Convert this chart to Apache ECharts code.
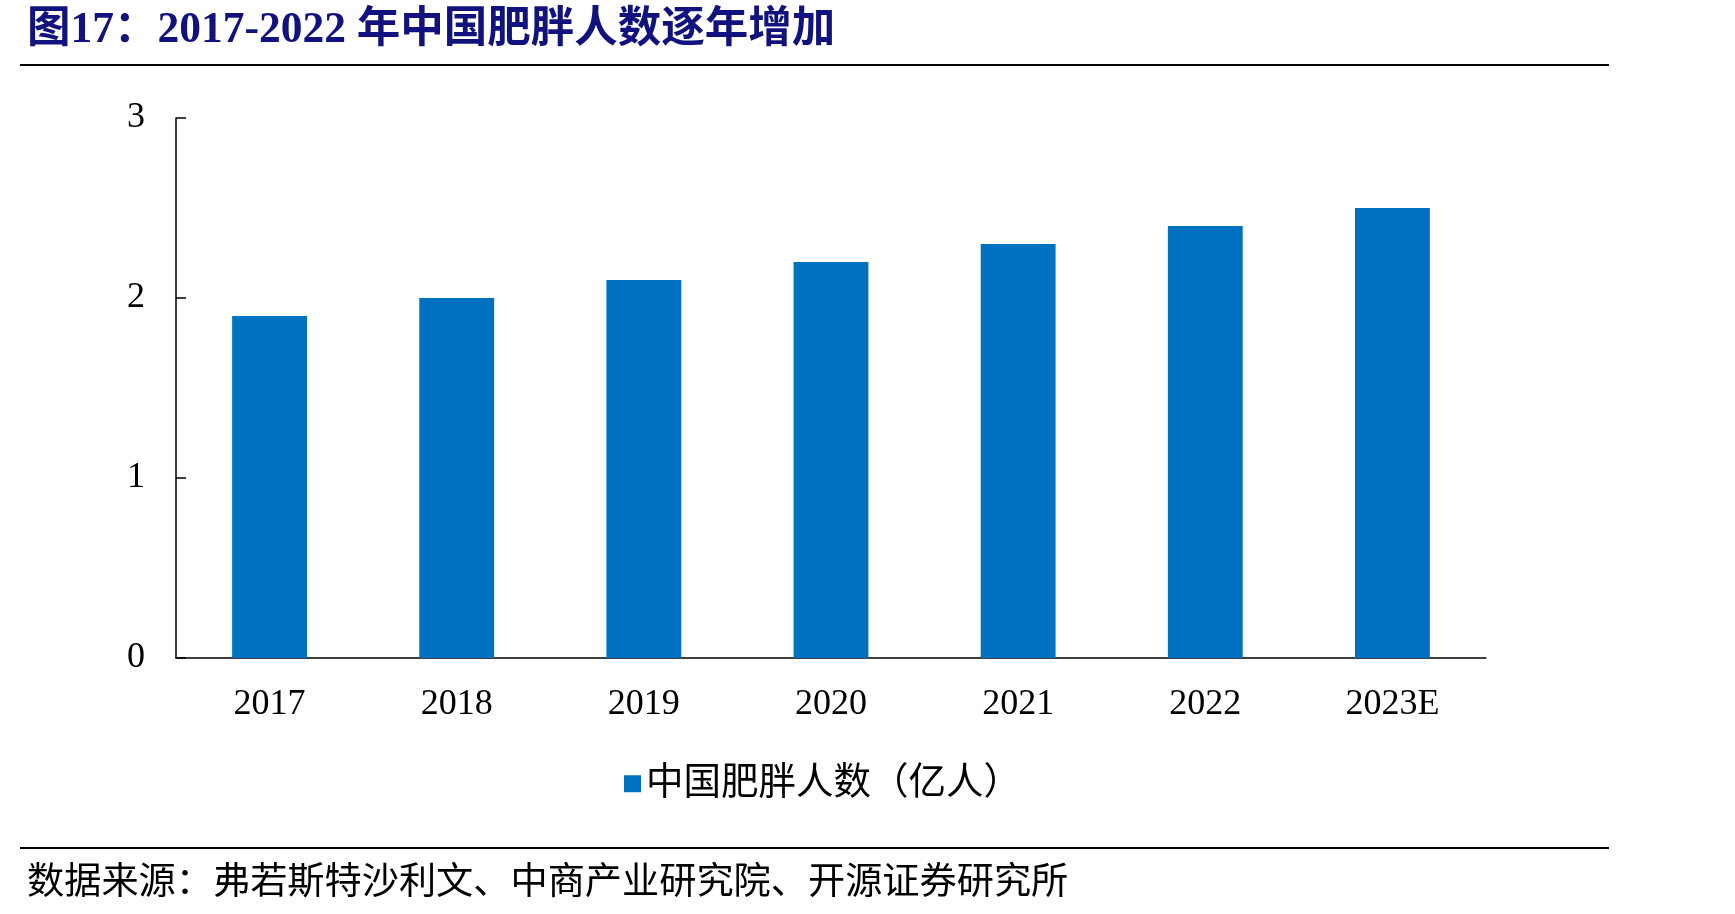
<!DOCTYPE html>
<html><head><meta charset="utf-8">
<script src="https://cdn.jsdelivr.net/npm/echarts@6/dist/echarts.min.js"></script>
<style>html,body{margin:0;padding:0;background:#fff}#c{width:1735px;height:914px}</style>
</head><body><div id="c"></div>
<script>
const categories = ['2017','2018','2019','2020','2021','2022','2023E'];
const values = [1.9, 2.0, 2.1, 2.2, 2.3, 2.4, 2.5];
const seriesName = '中国肥胖人数（亿人）';
const titleText = '图17：2017-2022 年中国肥胖人数逐年增加';
const sourceText = '数据来源：弗若斯特沙利文、中商产业研究院、开源证券研究所';
const serif = '"Liberation Serif","Noto Sans CJK SC",serif';
const chart = echarts.init(document.getElementById('c'));
chart.setOption({
  animation:false,
  backgroundColor:'#fff',
  title:[
    {text:titleText,left:22,top:4,textStyle:{fontFamily:serif,fontWeight:'bold',fontSize:43.5,color:'#12127e'}},
    {text:sourceText,left:22,top:861,textStyle:{fontFamily:serif,fontWeight:'normal',fontSize:37.2,color:'#000'}}
  ],
  graphic:[
    {type:'line',shape:{x1:20,y1:65,x2:1609,y2:65},style:{stroke:'#000',lineWidth:2}},
    {type:'line',shape:{x1:20,y1:848,x2:1609,y2:848},style:{stroke:'#000',lineWidth:2}}
  ],
  legend:{data:[seriesName],left:619,top:760,itemWidth:17,itemHeight:17,itemGap:16,
    textStyle:{fontFamily:serif,fontSize:37.5,color:'#000'},icon:'rect'},
  grid:{left:176,right:249,top:118,bottom:256,containLabel:false},
  xAxis:{type:'category',data:categories,
    axisLine:{lineStyle:{color:'#000',width:1.5}},
    axisTick:{inside:true,length:9,lineStyle:{color:'#000',width:1.5}},
    axisLabel:{fontFamily:serif,fontSize:36,color:'#000',margin:29}},
  yAxis:{type:'value',min:0,max:3,interval:1,
    axisLine:{show:true,lineStyle:{color:'#000',width:1.5}},
    axisTick:{show:true,inside:true,length:10,lineStyle:{color:'#000',width:1.5}},
    splitLine:{show:false},
    axisLabel:{fontFamily:serif,fontSize:36,color:'#000',margin:31}},
  series:[{name:seriesName,type:'bar',data:values,barWidth:'40%',itemStyle:{color:'#0070C0'}}]
});
</script></body></html>
